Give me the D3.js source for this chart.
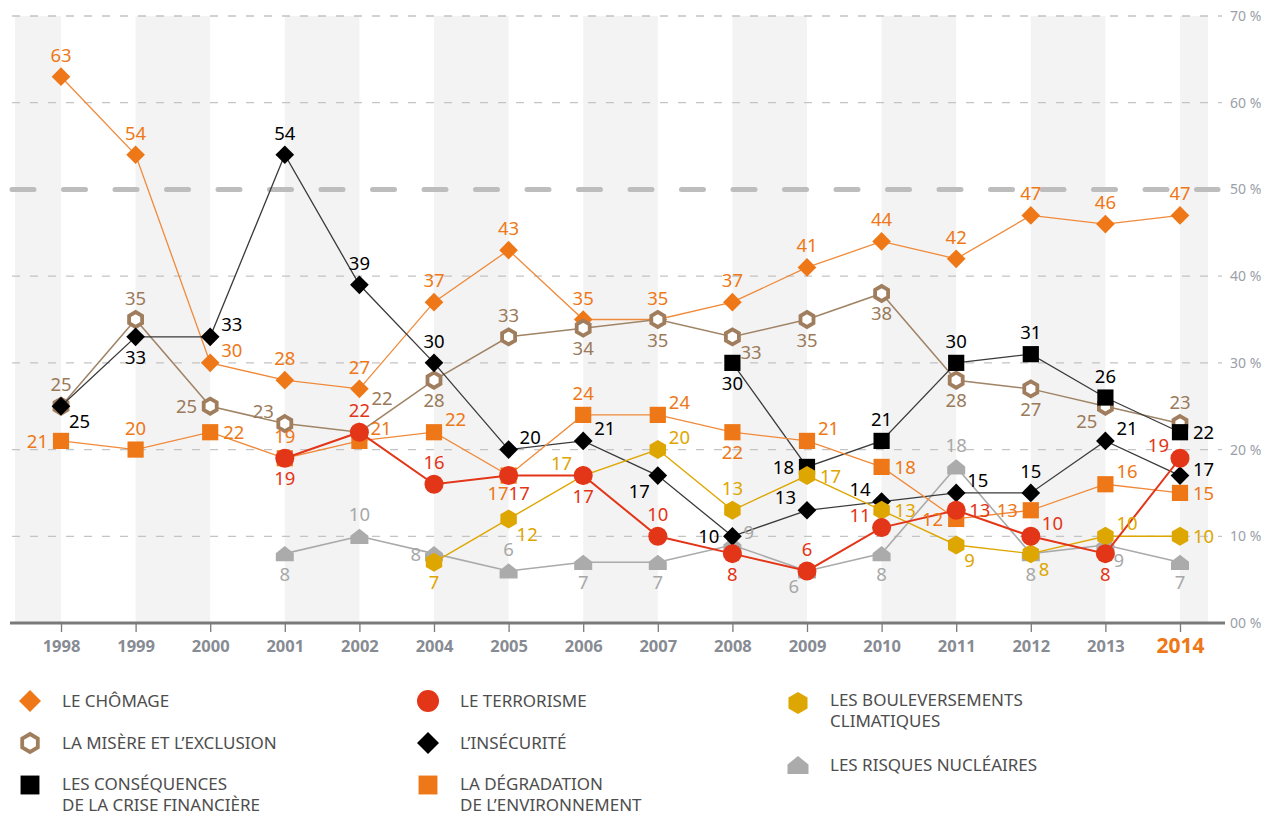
<!DOCTYPE html>
<html>
<head>
<meta charset="utf-8">
<script src="https://cdn.jsdelivr.net/npm/d3@7"></script>
<style>
  body { margin: 0; background: #fff; }
  svg text { font-family: "Noto Sans", "Open Sans", sans-serif; }
</style>
</head>
<body>
<div id="chart"></div>
<script>
// values (null = not asked that year)
const years = ["1998", "1999", "2000", "2001", "2002", "2004", "2005", "2006", "2007", "2008", "2009", "2010", "2011", "2012", "2013", "2014"];
const yTicks = [0, 10, 20, 30, 40, 50, 60, 70];

const chomage    = [63, 54, 30, 28, 27, 37, 43, 35, 35, 37, 41, 44, 42, 47, 46, 47];
const misere     = [25, 35, 25, 23, 22, 28, 33, 34, 35, 33, 35, 38, 28, 27, 25, 23];
const crise      = [null, null, null, null, null, null, null, null, null, 30, 18, 21, 30, 31, 26, 22];
const terrorisme = [null, null, null, 19, 22, 16, 17, 17, 10, 8, 6, 11, 13, 10, 8, 19];
const insecurite = [25, 33, 33, 54, 39, 30, 20, 21, 17, 10, 13, 14, 15, 15, 21, 17];
const degradation = [21, 20, 22, 19, 21, 22, 17, 24, 24, 22, 21, 18, 12, 13, 16, 15];
const climat     = [null, null, null, null, null, 7, 12, 17, 20, 13, 17, 13, 9, 8, 10, 10];
const nucleaire  = [null, null, null, 8, 10, 8, 6, 7, 7, 9, 6, 8, 18, 8, 9, 7];

// where each value label sits relative to its marker
const chomagePos    = "t t tr t t t t t t t t t t t t t".split(" ");
const miserePos     = "t t l tl tr2 b t b b br b b b b bl t".split(" ");
const crisePos      = "- - - - - - - - - b l t t t t r".split(" ");
const terrorismePos = "- - - b t t br0 b t b t tl r tr b tl".split(" ");
const insecuritePos = "br b tr t t t tr tr bl l tl tl tr t tr rt".split(" ");
const degradationPos = "l t r t tr tr bl0 t tr b tr r l l tr r".split(" ");
const climatPos     = "- - - - - b br tl tr t r r br br tr r".split(" ");
const nucleairePos  = "- - - b t l t b b tr bl b t b br b".split(" ");

const series = [
  { key: "nucleaire", name: ["LES RISQUES NUCLÉAIRES"], values: nucleaire, pos: nucleairePos, color: "#ababab", line: "#aaaaaa", lw: 1.6, sym: "house" },
  { key: "chomage", name: ["LE CHÔMAGE"], values: chomage, pos: chomagePos, color: "#ee7817", line: "#f08a3a", lw: 1.3, sym: "diamond" },
  { key: "misere", name: ["LA MISÈRE ET L’EXCLUSION"], values: misere, pos: miserePos, color: "#a07d5c", line: "#a08466", lw: 1.5, sym: "hexOutline" },
  { key: "crise", name: ["LES CONSÉQUENCES", "DE LA CRISE FINANCIÈRE"], values: crise, pos: crisePos, color: "#000000", line: "#3a3a3a", lw: 1.3, sym: "square" },
  { key: "insecurite", name: ["L’INSÉCURITÉ"], values: insecurite, pos: insecuritePos, color: "#000000", line: "#3a3a3a", lw: 1.3, sym: "diamond" },
  { key: "degradation", name: ["LA DÉGRADATION", "DE L’ENVIRONNEMENT"], values: degradation, pos: degradationPos, color: "#ee7817", line: "#f08a3a", lw: 1.3, sym: "square" },
  { key: "climat", name: ["LES BOULEVERSEMENTS", "CLIMATIQUES"], values: climat, pos: climatPos, color: "#dea600", line: "#dea600", lw: 1.4, sym: "hex" },
  { key: "terrorisme", name: ["LE TERRORISME"], values: terrorisme, pos: terrorismePos, color: "#e33517", line: "#e33517", lw: 2, sym: "circle" }
];

// legend order: three columns
const legendOrder = [["chomage", "misere", "crise"], ["terrorisme", "insecurite", "degradation"], ["climat", "nucleaire"]];

const W = 1270, H = 816;
const svg = d3.select("#chart").append("svg").attr("width", W).attr("height", H);

const x = d3.scalePoint().domain(years).range([61, 1180]);
const y = d3.scaleLinear().domain([0, 70]).range([623, 16]);
const plotLeft = 15, plotRight = 1208;

// alternating grey bands
const bands = [[plotLeft, x(years[0])]];
for (let k = 1; k < years.length; k += 2) {
  bands.push([x(years[k]), k + 1 < years.length ? x(years[k + 1]) : plotRight]);
}
svg.append("g").selectAll("rect").data(bands).join("rect")
  .attr("x", d => d[0]).attr("width", d => d[1] - d[0])
  .attr("y", y(70)).attr("height", y(0) - y(70))
  .attr("fill", "#f3f3f3");

// grid lines
svg.append("g").selectAll("line").data(yTicks.filter(t => t > 0)).join("line")
  .attr("x1", 12).attr("x2", t => t === 50 ? 1218 : 1222)
  .attr("y1", t => y(t)).attr("y2", t => y(t))
  .attr("stroke", t => t === 50 ? "#bdbdbd" : "#c4c4c4")
  .attr("stroke-width", t => t === 50 ? 5 : 1.3)
  .attr("stroke-linecap", t => t === 50 ? "round" : "butt")
  .attr("stroke-dasharray", t => t === 50 ? "22 29.5" : "8 10");

// right axis labels
const yAxis = svg.append("g").attr("transform", "translate(1228,0)")
  .call(d3.axisRight(y).tickValues(yTicks).tickSize(0).tickPadding(2)
    .tickFormat(d => (d === 0 ? "00" : d) + " %"));
yAxis.select(".domain").remove();
yAxis.selectAll("text").attr("fill", "#9ba0a8").attr("font-size", 14);

// baseline + year axis
svg.append("line").attr("x1", 10).attr("x2", 1225).attr("y1", y(0)).attr("y2", y(0))
  .attr("stroke", "#7a7a7a").attr("stroke-width", 3);
const xAxis = svg.append("g").attr("transform", `translate(0,${y(0)})`)
  .call(d3.axisBottom(x).tickSize(9).tickPadding(9));
xAxis.select(".domain").remove();
xAxis.selectAll(".tick line").attr("stroke", "#7a7a7a").attr("stroke-width", 1.3);
xAxis.selectAll("text")
  .attr("fill", d => d === "2014" ? "#ee7817" : "#878b93")
  .attr("font-size", d => d === "2014" ? 21 : 16.5)
  .attr("dy", d => d === "2014" ? "0.55em" : "0.68em")
  .attr("font-weight", "bold");

// marker shapes
function symbolPath(sym, s) {
  const r = s / 2;
  if (sym === "diamond") return `M0,${-r * 1.1}L${r * 1.1},0L0,${r * 1.1}L${-r * 1.1},0Z`;
  if (sym === "square") return `M${-r * 0.9},${-r * 0.9}h${r * 1.8}v${r * 1.8}h${-r * 1.8}Z`;
  if (sym === "circle") return d3.symbol(d3.symbolCircle, Math.PI * r * r)();
  if (sym === "hex" || sym === "hexOutline") {
    const pts = d3.range(6).map(i => {
      const a = Math.PI / 3 * i - Math.PI / 2;
      return [r * Math.cos(a), r * Math.sin(a)];
    });
    return "M" + pts.join("L") + "Z";
  }
  if (sym === "house") return `M${-r},${r * 0.85}H${r}V${-r * 0.05}L0,${-r * 0.85}L${-r},${-r * 0.05}Z`;
}
function drawSymbol(g, s, size) {
  const p = g.append("path").attr("d", symbolPath(s.sym, size));
  if (s.sym === "hexOutline") {
    p.attr("fill", "#fff").attr("stroke", s.color).attr("stroke-width", 3.8);
  } else {
    p.attr("fill", s.color);
  }
  return p;
}
const sizes = { diamond: 17, square: 18, circle: 19, hex: 19, hexOutline: 15, house: 18 };

// lines and markers
const lineGen = d3.line()
  .defined(d => d.v != null)
  .x(d => x(d.year)).y(d => y(d.v));

series.forEach(s => {
  const pts = years.map((yr, i) => ({ year: yr, v: s.values[i], pos: s.pos[i] }));
  s.pts = pts;
  const g = svg.append("g").attr("class", "series-" + s.key);
  g.append("path").datum(pts).attr("d", lineGen)
    .attr("fill", "none").attr("stroke", s.line).attr("stroke-width", s.lw);
  pts.filter(d => d.v != null).forEach(d => {
    const m = g.append("g").attr("transform", `translate(${x(d.year)},${y(d.v)})`);
    drawSymbol(m, s, sizes[s.sym]);
  });
});

// value labels on top
const offsets = {
  t:   { dx: 0,   dy: -15, a: "middle" },
  b:   { dx: 0,   dy: 27,  a: "middle" },
  r:   { dx: 13,  dy: 7,   a: "start" },
  rt:  { dx: 13,  dy: 0,   a: "start" },
  l:   { dx: -13, dy: 7,   a: "end" },
  tr:  { dx: 11,  dy: -6,  a: "start" },
  tr2: { dx: 12,  dy: -27, a: "start" },
  tl:  { dx: -11, dy: -6,  a: "end" },
  br:  { dx: 8,   dy: 22,  a: "start" },
  bl:  { dx: -8,  dy: 22,  a: "end" },
  br0: { dx: 0,   dy: 24,  a: "start" },
  bl0: { dx: 0,   dy: 24,  a: "end" }
};
const labelLayer = svg.append("g");
series.forEach(s => {
  const labelColor = s.key === "misere" ? "#9a7a5a" : s.key === "nucleaire" ? "#a8a8a8" : s.color;
  s.pts.filter(d => d.v != null).forEach(d => {
    const o = offsets[d.pos];
    labelLayer.append("text")
      .attr("x", x(d.year) + o.dx).attr("y", y(d.v) + o.dy)
      .attr("text-anchor", o.a)
      .attr("font-size", 18.5)
      .attr("fill", labelColor)
      .text(d.v);
  });
});

// legend
const colX = [30, 428, 798];
const rowY = [[701, 743, 785], [701, 743, 785], [703, 765]];
legendOrder.forEach((col, ci) => {
  col.forEach((key, ri) => {
    const s = series.find(e => e.key === key);
    const g = svg.append("g").attr("transform", `translate(${colX[ci]},${rowY[ci][ri]})`);
    drawSymbol(g, s, sizes[s.sym] + 3);
    const firstY = s.name.length > 1 ? (ci === 2 ? 3 : 5) : 6;
    const t = g.append("text").attr("x", 32).attr("y", firstY)
      .attr("font-size", 17).attr("fill", "#4d4d4d");
    s.name.forEach((line, li) => {
      t.append("tspan").attr("x", 32).attr("dy", li === 0 ? 0 : 21).text(line);
    });
  });
});
</script>
</body>
</html>
